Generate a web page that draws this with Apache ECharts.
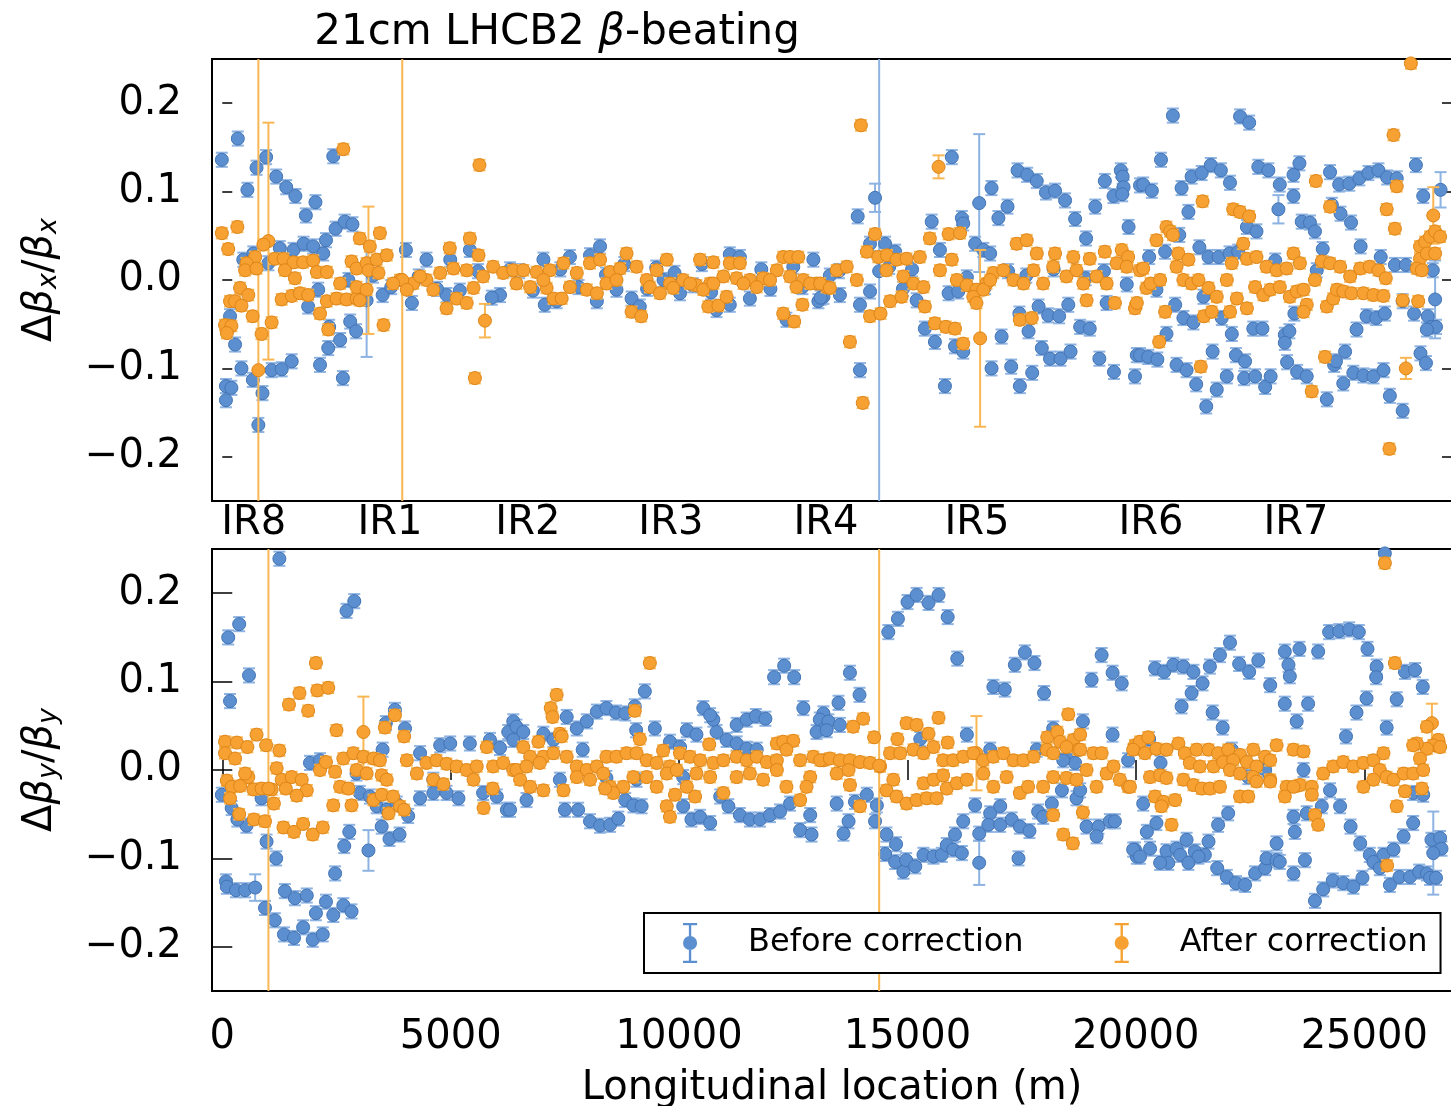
<!DOCTYPE html>
<html>
<head>
<meta charset="utf-8">
<script src="https://cdn.jsdelivr.net/npm/echarts@6.0.0/dist/echarts.min.js"></script>
<style>
html,body{margin:0;padding:0;background:#fff;}
#main{width:1451px;height:1106px;}
</style>
</head>
<body>
<div id="main"></div>
<script>
// positions of the IR labels along the ring (m)
var irNames = ['IR8', 'IR1', 'IR2', 'IR3', 'IR4', 'IR5', 'IR6', 'IR7'];
var irPos = [690, 3670, 6690, 9820, 13215, 16520, 20330, 23505];
var xTicks = [0, 5000, 10000, 15000, 20000, 25000];
var yTicks = [-0.2, -0.1, 0, 0.1, 0.2];

// default error bar half-heights, a third value in a point overrides it
var errBefore = 0.008;
var errAfter = 0.006;

// horizontal plane: [s, dbeta/beta, (err)]
var bxBefore = [
[-10,0.136],[340,0.160],[550,0.102],[750,0.127],[960,0.139],[1180,0.117],[1400,0.105],[1600,0.095],[1830,0.073],[2040,0.088],[2430,0.140],[2270,0.045],[2480,0.058],[2680,0.066],[2850,0.063],
[460,0.023],[680,0.030],[1010,0.019],[1260,0.036],[1560,0.034],[1780,0.041],[1990,0.038],[2210,0.030],[4020,0.034],[4470,0.023],[4990,0.023],[5420,0.034],
[170,-0.041],[280,-0.073],[420,-0.100],[80,-0.120],[200,-0.122],[80,-0.136],[670,-0.113],[790,-0.164],[880,-0.128],[1080,-0.102],[1300,-0.101],[1520,-0.092],[1880,-0.030],[2100,-0.011],[2140,-0.096],[2320,-0.077],[2340,-0.053],[2580,-0.068],[2640,-0.111],[2800,-0.047],[2930,-0.058],[2760,0.0],[3160,-0.023,0.064],[3510,-0.017],[4150,-0.026],[4910,-0.017],[6080,-0.017],
[3300,0.005],[3700,-0.008],[4300,0.004],[4700,-0.010],[5200,-0.012],[5600,0.010],[5900,-0.020],[6300,0.012],
[8270,0.038],[7030,0.023],[7610,0.026],[8050,0.028],[11110,0.029],[11330,0.026],[12940,0.023],[7060,-0.028],[7320,-0.024],[8200,-0.024],[8630,-0.011],[8960,-0.021],[9140,-0.030],[9660,0.0],[10020,-0.015],[10820,-0.034],[11110,-0.028],[11550,-0.021],[12350,-0.045],[13050,-0.024],[13160,-0.019],
[6500,0.010],[6800,-0.012],[7400,0.012],[7800,-0.008],[8400,0.006],[8800,0.018],[9300,-0.010],[9500,0.014],[9900,0.008],[10300,-0.006],[10500,0.018],[10700,-0.014],[11800,0.012],[12000,-0.010],[12500,0.015],[12700,-0.008],
[13910,0.072],[14290,0.093,0.016],[13960,-0.102],[15530,0.066],[15970,0.139],[16190,0.070],[16570,0.087,0.078],[16840,0.104],[16990,0.070],[17190,0.083],[17410,0.124],[17620,0.119],[17830,0.112],[18030,0.099],[18230,0.101],[18450,0.090],[18670,0.069],[18910,0.047],[19110,0.083],[19320,0.112],[19510,0.095],[19670,0.124],[19710,0.117],[19730,0.105],[19700,0.097],[19840,0.060],[20090,0.107],
[14180,0.041],[14510,0.041],[14730,0.032],[15710,0.034],[16220,0.064],[16480,0.041],[16660,0.034],[16810,0.030],[13520,-0.017],[13960,-0.028],[14180,-0.013],[15200,-0.023],[15380,-0.055],[15600,-0.070],[15820,-0.120],[15900,-0.015],[16110,-0.013],[16040,-0.075],[16220,-0.081],[16840,-0.100],[17270,-0.098],[17460,-0.120],[17730,-0.105],[17450,-0.038],[17650,-0.058],[17870,-0.030],[18080,-0.040],[18320,-0.041],[17940,-0.077],[18120,-0.089],[18350,-0.089],[18570,-0.081],[18520,-0.028],[18780,-0.053],[18990,-0.055],[19200,-0.089],[19360,-0.026],[19520,-0.104],[19980,-0.109],[20020,-0.085],[17060,-0.064],[14380,0.010,0.6],
[13100,-0.020],[13300,0.005],[13500,0.010],[14600,0.015],[14900,-0.010],[15100,0.012],[16300,0.003],[16700,-0.008],[17200,0.010],[17600,0.005],[18200,0.012],[18900,0.002],[19300,0.010],[19800,-0.005],
[20810,0.186],[22280,0.185],[22480,0.178],[20550,0.136],[20160,0.108],[20350,0.101],[21000,0.104],[21220,0.117],[21440,0.121],[21640,0.130],[21860,0.124],[22060,0.110],[22680,0.128],[22900,0.124],[23150,0.108],[23450,0.119],[23580,0.132],[23450,0.095],[23120,0.080,0.016],[21150,0.077],
[24250,0.122],[24450,0.108],[24670,0.109],[24890,0.115],[25090,0.121],[25310,0.124],[25500,0.116],[25710,0.115],[26130,0.130],[26290,0.095],[26670,0.102,0.02],[24290,0.085],[24480,0.075],[24710,0.065],[23630,0.066],[23810,0.065],[23920,0.055],[22430,0.060],[22640,0.055],[24090,0.035],[24920,0.038],[20640,0.032],[20290,0.026],[20950,0.051],[21390,0.037],[21590,0.026],[21810,0.026],[22050,0.030],[22240,0.032],[23050,0.022],[23960,0.011],[25360,0.026],[25670,0.017],[25910,0.017],[26500,0.011],
[20450,-0.011],[21480,-0.019],[20860,-0.028],[21040,-0.043],[21260,-0.048],[20670,-0.061],[21880,-0.043],[22100,-0.061],[22570,-0.055],[22770,-0.055],[23260,-0.062],[23360,-0.058],[23260,-0.071],[23470,-0.038],[25050,-0.041],[25260,-0.043],[25450,-0.038],[24830,-0.056],[25840,-0.024],[26090,-0.038],[26390,-0.041],[26470,-0.053],[26570,-0.053],[26370,-0.056],[26550,-0.022,0.044],[26230,-0.083],[26350,-0.094],
[20090,-0.085],[20270,-0.087],[20470,-0.090],[20890,-0.096],[21110,-0.102],[21320,-0.118],[21680,-0.081],[21540,-0.143],[21770,-0.124],[21990,-0.109],[22190,-0.085],[22390,-0.092],[22370,-0.111],[22610,-0.109],[22830,-0.121],[22950,-0.109],[23310,-0.093],[23530,-0.104],[23740,-0.109],[24180,-0.135],[24340,-0.096],[24380,-0.092],[24580,-0.081],[24540,-0.117],[24760,-0.105],[24980,-0.108],[25200,-0.109],[25420,-0.102],[25560,-0.131],[25840,-0.148]
];

var bxAfter = [
[-10,0.053],[330,0.060],[130,0.035],[1010,0.044,0.134],[900,0.040],[720,0.026],[530,0.019],[500,0.011],[750,0.013],[1150,0.024],[1340,0.024],[1560,0.020],[1770,0.020],[1990,0.022],[1370,0.011],[1590,0.002],[2070,0.009],[2290,0.009],
[390,-0.009],[570,-0.017],[170,-0.024],[280,-0.024],[420,-0.029],[60,-0.051],[200,-0.052],[100,-0.060],[665,-0.041],[860,-0.061],[1080,-0.048],[790,-0.102,0.6],[1300,-0.022],[1520,-0.018],[1700,-0.015],[1880,-0.017],[2140,-0.038],[2320,-0.056],[2650,0.148],[2580,-0.004],
[2290,-0.024],[2500,-0.021],[2720,-0.022],[2940,-0.021],[2830,0.021],[2940,0.013],[3010,0.047],[3230,0.038],[3450,0.053],[3160,0.019],[3380,0.023],[3600,0.028],[3200,0.011,0.072],[3420,0.008],[3530,-0.051],[2940,-0.008],[3160,-0.011],[3010,-0.023],
[3890,0.0],[4180,-0.004],[4470,0.0],[4770,0.008],[5060,0.013],[5350,0.011],[4910,-0.032],[5130,-0.021],[5350,-0.026],[5500,-0.009],[4980,0.036],[5420,0.047],[5610,0.028],[5710,0.004],[5930,0.015],[6150,0.008],[6370,0.011],[5630,0.130],[5750,-0.046,0.019],[5530,-0.111],[3940,0.0,0.6],[3740,-0.004],[4040,-0.011],[4330,0.004],[4620,-0.011],
[8850,0.030],[9730,0.023],[10460,0.023],[10750,0.020],[11110,0.019],[11330,0.019],[12280,0.026],[12430,0.026],[12610,0.026],[8960,-0.036],[9170,-0.041],[10640,-0.030],[10860,-0.029],[12280,-0.038],[12520,-0.047],[12700,-0.028],[7100,-0.009],[7250,-0.021],[7430,-0.021],
[6590,0.011],[6880,0.009],[7170,0.011],[7470,0.019],[7760,0.008],[8050,0.019],[8270,0.023],[8490,0.009],[8710,0.013],[9070,0.015],[9290,0.0],[9510,0.011],[9800,-0.004],[10090,0.0],[10380,-0.006],[10680,-0.004],[10970,0.004],[11260,0.002],[11550,0.0],[11840,0.002],[12140,0.011],[12430,0.004],[12720,0.0],[13010,-0.004],[13230,-0.008],
[6440,-0.004],[6740,-0.008],[7030,0.0],[7610,-0.008],[7980,-0.011],[8200,-0.015],[8410,-0.004],[8630,0.0],[9360,-0.008],[9580,-0.015],[9870,-0.009],[10240,-0.004],[10530,-0.011],[10750,-0.004],[11040,-0.019],[11410,-0.004],[11700,-0.008],[11990,0.0],[12570,-0.008],[12870,-0.004],
[13980,0.175],[13740,-0.070],[14020,-0.139],[15680,0.128,0.013],[14290,0.052],[14110,0.032],[14360,0.026],[14550,0.028],[14760,0.023],[14980,0.024],[15270,0.026],[15490,0.047],[15900,0.052],[16150,0.053],[15970,0.023],[14180,-0.041],[14410,-0.038],[14620,-0.024],[14870,-0.019],[15380,-0.030],[15600,-0.049],[15840,-0.053],[16040,-0.055],[16220,-0.072],[16590,-0.066,0.1],
[17390,0.041],[17610,0.045],[17830,0.030],[18230,0.030],[18630,0.026],[18990,0.024],[19320,0.032],[19690,0.034],[19830,0.026],[17460,-0.045],[17720,-0.043],[18920,-0.023],[19540,-0.026],[19980,-0.032],
[13090,-0.004],[13300,-0.009],[13450,0.011],[13670,0.015],[13890,0.0],[14540,0.011],[14910,0.004],[15130,-0.004],[15350,-0.008],[15710,0.011],[16080,0.0],[16300,-0.006],[16510,-0.011],[16730,-0.004],[16880,0.008],[17100,0.011],[17320,0.0],[17540,-0.004],[17760,0.011],[17970,-0.004],[18190,0.015],[18480,0.004],[18700,0.011],[18850,-0.004],[19140,0.004],[19360,-0.004],[19580,0.019],[19800,0.015],[20090,0.011],[16440,-0.019],[16510,-0.026],[16660,-0.011],[16810,0.0],
[26020,0.245],[25640,0.164],[25710,0.106],[23940,0.112],[21460,0.089],[24250,0.083],[25490,0.080],[25670,0.058],[22130,0.080],[22280,0.077],[22480,0.072],[22350,0.041],[20450,0.045],[20670,0.060],[20750,0.055],[20810,0.051],[20930,0.030],[20890,0.015],[21150,0.023],[20160,0.013],
[26510,0.073,0.032],[26220,0.038],[26330,0.043],[26440,0.049],[26550,0.055],[26660,0.049],[26220,0.024],[26370,0.030],[26150,0.013],[26260,0.011],[26550,0.030],
[22100,0.019],[22430,0.024],[22640,0.026],[22860,0.015],[23080,0.011],[23300,0.013],[23450,0.030],[23590,0.019],[23920,0.0],[24070,0.021],[24250,0.019],[24470,0.015],[24690,0.004],[24910,0.013],[25120,0.015],[25310,0.011],[25470,0.002],
[20020,-0.026],[20230,-0.009],[20320,-0.004],[20530,0.0],[20640,-0.036],[20510,-0.070],[21040,0.0],[21220,-0.004],[21370,0.0],[21590,-0.009],[21770,-0.019],[21990,0.0],[22210,-0.021],[22430,-0.032],[21490,-0.041],[21660,-0.036],[22060,-0.036],
[22610,-0.008],[22790,-0.017],[22940,-0.011],[23150,-0.008],[23370,-0.019],[23520,-0.013],[23670,-0.011],[23740,-0.028],[23670,-0.036],[24180,-0.030],[24320,-0.021],[24400,-0.011],[24540,-0.013],[24720,-0.015],[24980,-0.015],[25200,-0.017],[25420,-0.018],[25840,-0.023],[26180,-0.024],
[23850,-0.126],[24140,-0.087],[21420,-0.098],[25910,-0.100,0.012],[25550,-0.191]
];

// vertical plane
var byBefore = [
[1250,0.239],[130,0.150],[370,0.165],[585,0.107],[170,0.078],[2720,0.180],[2890,0.191],[3780,0.068],[3580,0.053],[4000,0.047],[3510,0.023],
[-10,-0.028],[205,-0.043],[530,-0.063],[330,-0.056],[970,-0.081],[1180,-0.100],[860,-0.032],[80,-0.126],[100,-0.132],[300,-0.136],[500,-0.136],[720,-0.133,0.015],[935,-0.156],[1150,-0.170],[1370,-0.137],[1590,-0.145],[1850,-0.142],[1350,-0.186],[1570,-0.190],[1770,-0.178],[1980,-0.192],[2200,-0.186],[2050,-0.162],[2270,-0.149],[2430,-0.164],[2650,-0.153],[2830,-0.160],[2470,-0.117],[2670,-0.086],[2780,-0.070],[3200,-0.091,0.023],
[3490,-0.064],[3660,-0.078],[3880,-0.073],[4070,-0.052],[3010,-0.026],[3230,-0.030],[3380,-0.041],[3600,-0.045],[3820,-0.038],[4330,-0.032],[4620,-0.026],[4910,-0.026],[5170,-0.032],[4330,0.019],[4770,0.028],[4990,0.030],[5420,0.030],[5860,0.034],[6080,0.025],[6370,0.055],[6260,0.043],[6440,0.049],[5710,-0.026],[6010,-0.030],[6230,-0.045],[1920,0.008],[2140,0.011],[2940,-0.004],[4620,-0.011],
[12300,0.118],[12080,0.105],[12520,0.105],[9250,0.089],[12720,0.070],[10530,0.070],[10750,0.057],[10680,0.062],[11260,0.051],[11480,0.057],[11680,0.061],[11890,0.058],[13160,0.064],[13080,0.057],[13190,0.047],[13010,0.043],
[8200,0.066],[8410,0.070],[8620,0.065],[8820,0.064],[9030,0.072],[7540,0.060],[7760,0.047],[7980,0.055],[9060,0.045],[9470,0.047],[10170,0.045],[10380,0.040],[10820,0.043],[11040,0.034],[11260,0.030],[11480,0.024],[11700,0.023],[6590,0.043],[6370,0.034],[7030,0.041],[7250,0.034],[7890,0.023],[9800,0.032],[10020,0.026],
[7390,-0.011],[7500,-0.045],[7790,-0.045],[8050,-0.058],[8270,-0.063],[8490,-0.062],[8670,-0.055],[8820,-0.034],[9000,-0.040],[9180,-0.041],[8410,-0.009],[9070,-0.011],[10090,-0.041],[10270,-0.056],[10460,-0.053],[10680,-0.060],
[10900,-0.030],[11080,-0.041],[11330,-0.051],[11550,-0.056],[11770,-0.056],[11990,-0.051],[12210,-0.047],[12430,-0.038],[12650,-0.068],[12900,-0.073],[12870,-0.051],[6300,-0.045],[6660,-0.034],[10090,-0.008],
[14580,0.156],[14790,0.171],[15000,0.190],[15200,0.198],[15460,0.189],[15680,0.198],[15880,0.173],[16090,0.126],[13740,0.110],[13950,0.085],[13490,0.076],[13270,0.055],[13230,0.045],[13520,0.051],
[16880,0.094],[17130,0.091],[17350,0.119],[17570,0.133],[17780,0.121],[17990,0.087],[19030,0.102],[19250,0.130],[19490,0.110],[19690,0.098],[18840,0.055],[19490,0.040],[16300,0.040],[15280,0.035],[16810,0.023],[17830,0.023],[18190,0.047],[18480,0.015],[18670,0.008],[18410,0.011],[19830,0.011],
[13450,-0.038],[13600,-0.072],[13710,-0.058],[13850,-0.036],[14110,-0.028],[14290,-0.058],[14330,-0.040],[14540,-0.073],[14750,-0.084],[14510,-0.095],[14730,-0.104],[14910,-0.115],[14970,-0.102],[15170,-0.109],[15350,-0.096],[15570,-0.098],[15750,-0.096],[15860,-0.085],[16000,-0.090],[16190,-0.094],[16040,-0.073],
[16220,-0.058],[16480,-0.040],[16570,-0.072],[16570,-0.105,0.025],[16810,-0.049],[17030,-0.041],[16770,-0.062],[17030,-0.062],[17280,-0.056],[17460,-0.064],[17670,-0.069],[17860,-0.047],[17970,-0.053],[17430,-0.100],[18160,-0.038],[18380,-0.023],[18700,-0.032],[18780,-0.023],[18920,-0.064],[19180,-0.064],[19140,-0.075],[19430,-0.058],[19540,-0.058],[19980,-0.090],[20020,-0.098],
[25450,0.245],[24230,0.156],[24450,0.157],[24670,0.159],[24880,0.156],[25070,0.137],[25270,0.117],[25260,0.105],[25890,0.111],[26110,0.113],[26280,0.094],[25710,0.080],[25050,0.081],[24830,0.065],[25490,0.048],[24600,0.038],
[20420,0.115],[20620,0.111],[20820,0.119],[21040,0.117],[21260,0.111],[21460,0.098],[21220,0.087],[21000,0.072],[21620,0.117],[21840,0.130],[22060,0.144],[22260,0.120],[22480,0.111],[22680,0.124],[22940,0.096],[23260,0.134],[23580,0.137],[23990,0.134],[23340,0.119],[23370,0.106],[23260,0.075],[23770,0.075],[23520,0.055],[21680,0.065],[21900,0.048],[22100,0.023],[20540,0.008],[20290,0.035],
[22460,-0.008],[22830,0.0],[23670,0.0],[24250,-0.023],[20160,-0.038],[20450,-0.060],[20240,-0.070],[19940,-0.090],[20090,-0.098],[20310,-0.089],[20670,-0.092],[20890,-0.089],[21110,-0.079],[21290,-0.092],[21510,-0.096],[21370,-0.098],[20710,-0.105],[20530,-0.105],[20970,-0.096],[21150,-0.105],[21590,-0.081],
[21800,-0.062],[22020,-0.049],[21780,-0.111],[21990,-0.121],[22190,-0.128],[22390,-0.130],[22610,-0.117],[22830,-0.111],[22860,-0.100],[23080,-0.102],[23150,-0.104],[23080,-0.083],[23450,-0.117],[23450,-0.053],[23480,-0.070],[23740,-0.049],[24070,-0.041],[24470,-0.041],[23700,-0.102],[23920,-0.148],
[24100,-0.135],[24310,-0.125],[24540,-0.128],[24760,-0.132],[24960,-0.122],[24700,-0.064],[24910,-0.083],[25120,-0.096],[25200,-0.104],[25340,-0.111],[25420,-0.096],[25640,-0.090],[25860,-0.075],[26070,-0.060],
[25560,-0.130],[25770,-0.121],[26000,-0.121],[26200,-0.115],[26370,-0.117],[26440,-0.122],[26570,-0.122],[26470,-0.079],[26660,-0.077],[26690,-0.089],[26510,-0.094,0.047],[26070,-0.026],[26290,-0.028]
];

var byAfter = [
[2050,0.121],[1460,0.074],[1690,0.087],[1880,0.067],[2080,0.090],[2320,0.093],[2500,0.045],[3090,0.043,0.04],[3780,0.062],[3560,0.048],[3980,0.038],
[60,0.032],[320,0.031],[550,0.026],[750,0.040],[960,0.028],[1250,0.022],[60,0.019],[280,0.013],[1190,0.002],[100,-0.012],[210,-0.019],[390,-0.018],[570,-0.008],[500,-0.004],
[680,-0.022],[860,-0.021],[1080,-0.022],[1300,-0.011],[1520,-0.008],[1740,-0.011],[1850,-0.023],[1630,-0.029],[1390,-0.021],[170,-0.032],[370,-0.050],[690,-0.056],[935,-0.058],[1130,-0.038],[1340,-0.065],[1570,-0.070],[1770,-0.061],[1980,-0.073],[2200,-0.065],
[2140,0.0],[2270,0.009],[2470,-0.002],[2580,-0.019],[2760,-0.021],[2430,-0.040],[2830,-0.040],[2650,0.013],[2870,0.019],[3090,0.015],[3310,0.013],[3450,0.011],[2940,0.0],[3160,-0.004],[3490,-0.006],[3600,-0.011],
[3310,-0.034],[3490,-0.028],[3640,-0.049],[3740,-0.030],[3890,-0.041],[3980,-0.045],[4040,0.011],[4260,-0.004],[4470,0.008],[4690,0.011],[4910,0.007],[5130,0.004],[5350,0.0],[5570,0.004],[5790,0.026],[5930,0.004],[6150,0.008],[6370,0.0],[4620,-0.011],[4840,-0.016],[5500,-0.011],[5720,-0.043],[5920,-0.021],[1010,-0.021,0.6],
[9360,0.121],[7320,0.085],[7190,0.070],[7230,0.060],[7390,0.041],[7430,0.038],[9030,0.067],[9140,0.035],[9650,0.022],[10660,0.029],[12140,0.030],[12280,0.032],[12500,0.033],[12350,0.023],[6590,0.026],[6920,0.032],[6740,0.015],[7030,0.015],[7250,0.019],
[6440,0.0],[6660,0.004],[6950,0.008],[7540,0.015],[7760,0.004],[7980,0.0],[8200,0.004],[8410,0.015],[8630,0.015],[8850,0.019],[9070,0.019],[9290,0.011],[9510,0.008],[9800,0.004],[10020,0.019],[10240,0.015],[10460,0.011],[10750,0.008],[10970,0.011],[11260,0.015],[11480,0.011],[11700,0.015],[11920,0.009],[12140,0.011],[12650,0.011],[12940,0.015],[13160,0.011],
[6520,-0.011],[6740,-0.019],[7030,-0.023],[7470,-0.023],[7760,-0.008],[8050,-0.011],[8340,-0.004],[8490,-0.019],[8780,-0.019],[9000,-0.008],[9290,-0.008],[9510,-0.019],[9730,-0.004],[9950,0.0],[10170,-0.019],[10380,-0.004],[10680,-0.008],[10970,-0.026],[11260,-0.008],[11550,-0.004],[11840,-0.011],[12140,0.0],[12350,-0.019],[12650,-0.034],[12870,-0.008],[12790,-0.019],
[9730,-0.041],[9800,-0.053],[9910,-0.028],[10350,-0.030],[8560,-0.026],[8380,-0.021],
[14030,0.058],[13810,0.049],[14270,0.037],[14980,0.053],[15200,0.051],[15680,0.059],[15460,0.041],[14780,0.035],[15880,0.031],[18520,0.063],[18060,0.037],[18280,0.043],[18340,0.032],[18630,0.034],[18780,0.040],[18740,0.023],[19980,0.028],[20020,0.025],[16510,0.019,0.042],
[13090,0.011],[13300,0.013],[13520,0.011],[13740,0.011],[13960,0.009],[14180,0.008],[14400,0.004],[14620,0.019],[14840,0.019],[15130,0.023],[15350,0.019],[15570,0.026],[15780,0.011],[16000,0.011],[16220,0.015],[16440,0.019],[16660,0.011],[16880,0.015],[17100,0.019],[17320,0.011],[17540,0.011],[17760,0.015],[18050,0.023],[18190,0.019],[18480,0.026],[18780,0.023],[19070,0.019],[19250,0.019],
[13450,-0.004],[13710,0.0],[13740,-0.017],[13960,-0.041],[14540,-0.023],[14760,-0.030],[14980,-0.038],[15200,-0.034],[15420,-0.032],[15640,-0.032],
[14690,-0.011],[15350,-0.015],[15570,-0.011],[15780,-0.006],[15860,-0.021],[16080,-0.015],[16300,-0.011],[16660,-0.004],[16880,-0.019],[17170,-0.008],[17460,-0.026],[17640,-0.019],[17970,-0.019],[18190,-0.008],[18480,-0.009],[18700,-0.011],[18920,0.0],[19140,-0.019],[19360,-0.004],[19510,0.004],[19650,-0.011],[19830,-0.019],
[18190,-0.051],[18840,-0.048],[18410,-0.073],[18620,-0.083],[14380,0.005,0.6],
[25450,0.234],[25670,0.121],[26480,0.053,0.022],[26370,0.049],[26620,0.034],[26510,0.028],[26660,0.026],[26370,0.024],[26220,0.013],[26150,0.030],[26070,0.028],
[20090,0.032],[20270,0.037],[19940,0.023],[20200,0.019],[20450,0.024],[20670,0.023],[20930,0.030],[21070,0.019],[21330,0.023],[21590,0.023],[21800,0.019],[22020,0.023],[22280,0.017],[22570,0.023],[22830,0.015],[23080,0.028],[23450,0.023],[23670,0.021],
[21180,0.008],[21400,0.004],[21700,0.004],[21910,0.009],[22130,0.011],[22430,0.009],[22640,0.004],[22940,0.011],
[20310,-0.008],[20530,-0.006],[20670,-0.009],[21040,-0.011],[21260,-0.017],[21440,-0.021],[21620,-0.021],[21840,-0.019],[22060,0.0],[22280,-0.004],[22570,-0.008],[22940,-0.011],[23300,-0.019],[23590,-0.017],[23850,-0.019],[24100,-0.004],[24320,0.004],[24540,0.009],[24760,0.004],[24980,0.008],[25200,0.011],[25420,0.019],[25340,0.0],[24980,-0.019],[25200,-0.011],[25490,-0.008],[25640,-0.011],[25860,-0.004],[26070,-0.004],[26290,0.0],
[19870,-0.019],[20420,-0.030],[20600,-0.036],[20560,-0.041],[20860,-0.034],[20780,-0.062],[22280,-0.030],[22460,-0.030],[22640,-0.013],[22940,-0.013],[23260,-0.030],[23450,-0.019],[23850,-0.028],[23920,-0.051],[23990,-0.062],[25710,-0.041],[25890,-0.024],[26260,-0.021],[25500,-0.108]
];

var FONT = 'DejaVu Sans';
var BLUE = '#5b8fd0', BLUE_EDGE = '#4474b5', BLUE_ERR = '#8db3e2';
var ORANGE = '#f6a131', ORANGE_EDGE = '#de8518', ORANGE_ERR = '#f9b754';

function withErr(list, def) {
	return list.map(function(p) {
		return [p[0], p[1], p.length > 2 ? p[2] : def];
	});
}

function fmtY(v) {
	var s = Math.abs(v).toFixed(1);
	return v < -1e-9 ? '\u2212' + s : s;
}

// error bars drawn as vertical line + caps, clipped to the plot box
function errorBarSeries(name, list, def, color, xi, yi, z) {
	return {
		name: name,
		type: 'custom',
		xAxisIndex: xi,
		yAxisIndex: yi,
		data: withErr(list, def),
		z: z,
		silent: true,
		itemStyle: {color: color},
		renderItem: function(params, api) {
			var s = api.value(0), y = api.value(1), e = api.value(2);
			var hi = api.coord([s, y + e]);
			var lo = api.coord([s, y - e]);
			var cs = params.coordSys;
			var top = Math.max(hi[1], cs.y), bot = Math.min(lo[1], cs.y + cs.height);
			var x = hi[0];
			var children = [{
				type: 'line',
				shape: {x1: x, y1: top, x2: x, y2: bot},
				style: {stroke: color, lineWidth: 2}
			}];
			if (hi[1] >= cs.y) children.push({type: 'line', shape: {x1: x - 6, y1: hi[1], x2: x + 6, y2: hi[1]}, style: {stroke: color, lineWidth: 2}});
			if (lo[1] <= cs.y + cs.height) children.push({type: 'line', shape: {x1: x - 6, y1: lo[1], x2: x + 6, y2: lo[1]}, style: {stroke: color, lineWidth: 2}});
			return {type: 'group', children: children};
		}
	};
}

function pointSeries(name, list, fill, edge, xi, yi, z) {
	return {
		name: name,
		type: 'scatter',
		xAxisIndex: xi,
		yAxisIndex: yi,
		symbol: 'circle',
		symbolSize: 13,
		z: z,
		silent: true,
		itemStyle: {color: fill, borderColor: edge, borderWidth: 1, opacity: 1},
		data: list.map(function(p) { return [p[0], p[1]]; })
	};
}

var myChart = echarts.init(document.getElementById('main'), null, {renderer: 'canvas'});

var xBase = {type: 'value', min: -225, max: 26920, splitLine: {show: false}, axisLine: {show: false}};
var yBase = {type: 'value', min: -0.25, max: 0.25, splitLine: {show: false}, axisLine: {show: false}};
var inTick = {show: true, inside: true, length: 10, customValues: yTicks, lineStyle: {color: '#000', width: 1.5}};
var yName = '{a|\u0394}{b|\u03b2}{c|x}{a|/}{b|\u03b2}{c|x}';
var yNameY = '{a|\u0394}{b|\u03b2}{c|y}{a|/}{b|\u03b2}{c|y}';
var nameRich = {
	a: {fontSize: 40, fontFamily: FONT, color: '#000'},
	b: {fontSize: 40, fontFamily: FONT, fontStyle: 'italic', color: '#000'},
	c: {fontSize: 27, fontFamily: FONT, fontStyle: 'italic', color: '#000', padding: [16, 0, 0, 0]}
};
var legendIcon = 'path://M0,0H12V2H0Z M5,1H7V33H5Z M0,32H12V34H0Z M12,17A6,6 0 1 1 0,17A6,6 0 1 1 12,17Z';

var option = {
	backgroundColor: '#fff',
	animation: false,
	graphic: [{
		type: 'text',
		x: 557,
		y: 12,
		style: {
			text: '21cm LHCB2 {i|\u03b2}-beating',
			font: '42px "DejaVu Sans"',
			fill: '#000',
			textAlign: 'center',
			rich: {i: {fontSize: 42, fontFamily: FONT, fontStyle: 'italic'}}
		}
	}],
	legend: {
		left: 644,
		top: 913,
		orient: 'horizontal',
		data: [
			{name: 'Before correction', icon: legendIcon, itemStyle: {color: BLUE}},
			{name: 'After correction', icon: legendIcon, itemStyle: {color: ORANGE}}
		],
		itemWidth: 80,
		itemHeight: 40,
		itemGap: 91,
		padding: [10, 13, 10, 39],
		borderColor: '#000',
		borderWidth: 2,
		borderRadius: 0,
		backgroundColor: '#fff',
		textStyle: {fontFamily: FONT, fontSize: 32, color: '#000', padding: [0, 0, 0, 13]},
		z: 20
	},
	grid: [
		{left: 212, top: 59, width: 1240, height: 442, outerBoundsMode: 'none', show: true, borderColor: '#000', borderWidth: 2, backgroundColor: 'transparent'},
		{left: 212, top: 549, width: 1240, height: 442, outerBoundsMode: 'none', show: true, borderColor: '#000', borderWidth: 2, backgroundColor: 'transparent'}
	],
	xAxis: [
		Object.assign({}, xBase, {
			gridIndex: 0,
			axisTick: {show: false},
			axisLabel: {
				customValues: irPos,
				margin: 3,
				fontFamily: FONT, fontSize: 40, color: '#000',
				formatter: function(v) {
					var i = irPos.indexOf(v);
					return i >= 0 ? irNames[i] : '';
				}
			}
		}),
		Object.assign({}, xBase, {
			gridIndex: 1,
			name: 'Longitudinal location (m)',
			nameLocation: 'middle',
			nameGap: 78,
			nameTextStyle: {fontFamily: FONT, fontSize: 40, color: '#000'},
			axisTick: {show: true, inside: true, length: 10, customValues: xTicks, lineStyle: {color: '#000', width: 1.5}},
			axisLabel: {customValues: xTicks, margin: 27, fontFamily: FONT, fontSize: 40, color: '#000', formatter: function(v) { return String(v); }}
		}),
		Object.assign({}, xBase, {
			gridIndex: 1,
			position: 'top',
			axisTick: {show: true, inside: true, length: 10, customValues: xTicks, lineStyle: {color: '#000', width: 1.5}},
			axisLabel: {show: false}
		})
	],
	yAxis: [
		Object.assign({}, yBase, {
			gridIndex: 0,
			name: yName,
			nameLocation: 'middle',
			nameRotate: 90,
			nameGap: 150,
			nameTextStyle: {rich: nameRich},
			axisTick: inTick,
			axisLabel: {customValues: yTicks, margin: 30, formatter: fmtY, fontFamily: FONT, fontSize: 40, color: '#000'}
		}),
		Object.assign({}, yBase, {gridIndex: 0, position: 'right', axisTick: inTick, axisLabel: {show: false}}),
		Object.assign({}, yBase, {
			gridIndex: 1,
			name: yNameY,
			nameLocation: 'middle',
			nameRotate: 90,
			nameGap: 150,
			nameTextStyle: {rich: nameRich},
			axisTick: inTick,
			axisLabel: {customValues: yTicks, margin: 30, formatter: fmtY, fontFamily: FONT, fontSize: 40, color: '#000'}
		}),
		Object.assign({}, yBase, {gridIndex: 1, position: 'right', axisTick: inTick, axisLabel: {show: false}})
	],
	series: [
		errorBarSeries('Before correction', bxBefore, errBefore, BLUE_ERR, 0, 0, 2),
		pointSeries('Before correction', bxBefore, BLUE, BLUE_EDGE, 0, 0, 3),
		errorBarSeries('After correction', bxAfter, errAfter, ORANGE_ERR, 0, 0, 4),
		pointSeries('After correction', bxAfter, ORANGE, ORANGE_EDGE, 0, 0, 5),
		errorBarSeries('Before correction', byBefore, errBefore, BLUE_ERR, 1, 2, 2),
		pointSeries('Before correction', byBefore, BLUE, BLUE_EDGE, 1, 2, 3),
		errorBarSeries('After correction', byAfter, errAfter, ORANGE_ERR, 1, 2, 4),
		pointSeries('After correction', byAfter, ORANGE, ORANGE_EDGE, 1, 2, 5)
	]
};

myChart.setOption(option);
</script>
</body>
</html>
